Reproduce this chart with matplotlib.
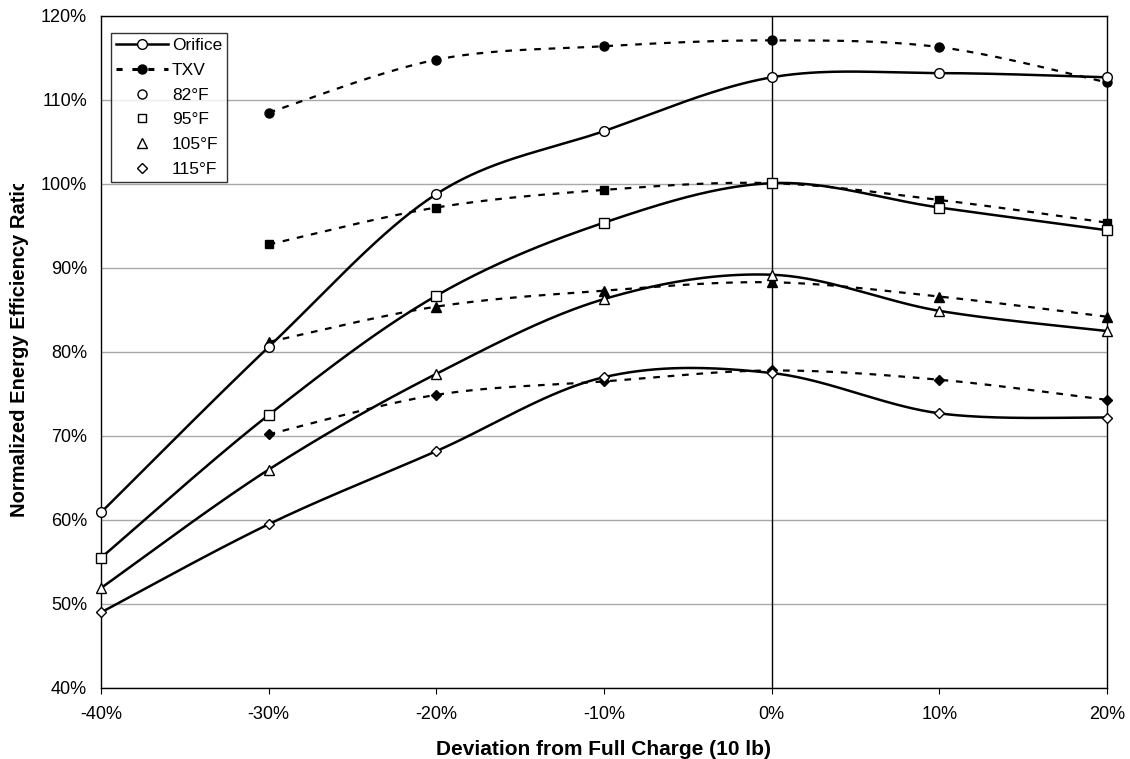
import numpy as np
import matplotlib.pyplot as plt
from matplotlib.lines import Line2D
from matplotlib.transforms import Bbox, TransformedBbox

plt.rcParams['font.family'] = ['Liberation Sans', 'DejaVu Sans']

# data (percent)
x_orifice = [-40, -30, -20, -10, 0, 10, 20]
x_txv = [-30, -20, -10, 0, 10, 20]

orifice_82 = [60.9, 80.6, 98.8, 106.3, 112.7, 113.2, 112.7]
orifice_95 = [55.5, 72.5, 86.7, 95.4, 100.1, 97.2, 94.5]
orifice_105 = [51.9, 66.0, 77.4, 86.3, 89.2, 84.9, 82.5]
orifice_115 = [49.0, 59.5, 68.2, 77.0, 77.5, 72.7, 72.2]

txv_82 = [108.5, 114.8, 116.4, 117.1, 116.3, 112.1]
txv_95 = [92.8, 97.2, 99.3, 100.1, 98.1, 95.4]
txv_105 = [81.2, 85.4, 87.3, 88.3, 86.6, 84.2]
txv_115 = [70.2, 74.9, 76.5, 77.8, 76.7, 74.3]

temps = ['82°F', '95°F', '105°F', '115°F']
markers = ['o', 's', '^', 'D']
msizes = [7, 6.5, 7.5, 5.5]
orifice = [orifice_82, orifice_95, orifice_105, orifice_115]
txv = [txv_82, txv_95, txv_105, txv_115]


def smooth(x, y, n=40):
    # catmull-rom, roughly what excel does for smoothed lines
    x = np.asarray(x, float)
    y = np.asarray(y, float)
    px = np.concatenate([[x[0]], x, [x[-1]]])
    py = np.concatenate([[y[0]], y, [y[-1]]])
    xs, ys = [], []
    for i in range(1, len(px) - 2):
        t = np.linspace(0, 1, n)
        b0 = np.array([px[i], py[i]])
        b1 = b0 + np.array([px[i + 1] - px[i - 1], py[i + 1] - py[i - 1]]) / 6
        b3 = np.array([px[i + 1], py[i + 1]])
        b2 = b3 - np.array([px[i + 2] - px[i], py[i + 2] - py[i]]) / 6
        pts = ((1 - t) ** 3)[:, None] * b0 + (3 * (1 - t) ** 2 * t)[:, None] * b1 \
            + (3 * (1 - t) * t ** 2)[:, None] * b2 + (t ** 3)[:, None] * b3
        xs.extend(pts[:, 0])
        ys.extend(pts[:, 1])
    return xs, ys


fig = plt.figure(figsize=(11.3, 7.59), dpi=100)
ax = fig.add_axes([101 / 1130, 1 - 688 / 759, (1107 - 101) / 1130, (688 - 16) / 759])

dash = (0, (3, 3.5))
for yo, yt, m, ms in zip(orifice, txv, markers, msizes):
    sx, sy = smooth(x_txv, yt)
    ax.plot(sx, sy, color='black', lw=1.6, ls=dash, zorder=3)
    ax.plot(x_txv, yt, ls='none', marker=m, ms=ms - 0.5, mfc='black', mec='black',
            zorder=4, clip_on=False)
    sx, sy = smooth(x_orifice, yo)
    ax.plot(sx, sy, color='black', lw=1.8, zorder=3)
    ax.plot(x_orifice, yo, ls='none', marker=m, ms=ms, mfc='white', mec='black', mew=1.0,
            zorder=5, clip_on=False)

ax.set_xlim(-40, 20)
ax.set_ylim(40, 120)
ax.set_xticks(range(-40, 21, 10))
ax.set_xticklabels([f'{v}%' for v in range(-40, 21, 10)], fontsize=13)
ax.set_yticks(range(40, 121, 10))
ax.set_yticklabels([f'{v}%' for v in range(40, 121, 10)], fontsize=13)
ax.tick_params(axis='y', length=0, pad=10)
ax.tick_params(axis='x', length=4, direction='out', pad=9)
ax.grid(axis='y', color='#a8a8a8', lw=1.0)
ax.axvline(0, color='black', lw=1.0, zorder=2)
ax.set_axisbelow(True)
for s in ax.spines.values():
    s.set_linewidth(1.0)

ax.set_xlabel('Deviation from Full Charge (10 lb)', fontsize=15, fontweight='bold', labelpad=12)

yl = fig.text(20 / 1130, 1 - 347 / 759, 'Normalized Energy Efficiency Ratio', rotation=90,
              fontsize=14.5, fontweight='bold', ha='center', va='center')
yl.set_clip_box(TransformedBbox(Bbox([[0, 0], [1, 1 - 184 / 759]]), fig.transFigure))
yl.set_clip_on(True)

handles = [
    Line2D([], [], color='black', lw=1.8, marker='o', mfc='white', mec='black', ms=7),
    Line2D([], [], color='black', lw=2.2, ls=(0, (2, 3.2)), marker='o', mfc='black', mec='black', ms=6.5),
]
for m, ms in zip(markers, msizes):
    handles.append(Line2D([], [], ls='none', marker=m, mfc='white', mec='black', ms=ms - 0.5))
leg = ax.legend(handles, ['Orifice', 'TXV'] + temps, loc='upper left',
                bbox_to_anchor=(10 / 1006, 1 - 17 / 672), fontsize=12.5, frameon=True,
                fancybox=False, borderpad=0.3, labelspacing=0.55, handlelength=3.0,
                handletextpad=0.2, borderaxespad=0)
leg.get_frame().set_edgecolor('black')
leg.get_frame().set_linewidth(1.0)

fig.savefig('out.png', dpi=100)
